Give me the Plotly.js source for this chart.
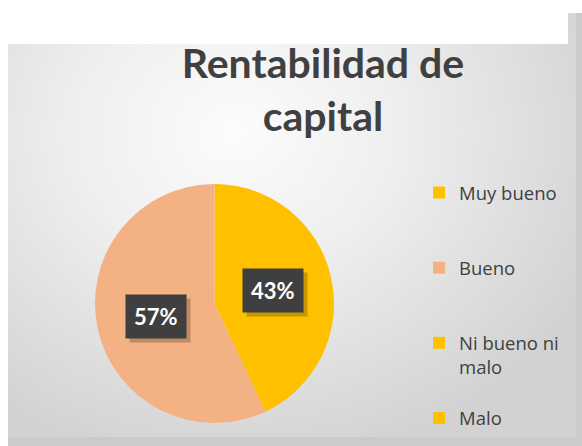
<!DOCTYPE html>
<html><head><meta charset="utf-8">
<script src="https://cdn.plot.ly/plotly-3.0.1.min.js"></script>
<style>
html,body{margin:0;padding:0;background:#fff;}
#wrap{position:relative;width:582px;height:446px;overflow:hidden;background:#fff;}
#panel{position:absolute;left:8px;top:13px;width:574px;height:433px;background:#cbcbcb;}
#inner{position:absolute;left:8px;top:13px;width:568px;height:424px;background:radial-gradient(ellipse 70% 80% at 40% 28%, #fcfcfc 0%, #efefef 40%, #d2d2d2 100%);}
#mask{position:absolute;left:0;top:0;width:568px;height:44px;background:#fff;}
#chart{position:absolute;left:0;top:0;width:582px;height:446px;}
</style></head>
<body>
<div id="wrap"><div id="panel"></div><div id="inner"></div><div id="mask"></div><div id="chart"></div></div>
<script>
const categories = ['Muy bueno', 'Bueno', 'Ni bueno ni malo', 'Malo'];
const values = [43, 57, 0, 0];
const colors = ['#FFC000', '#F4B183', '#FFC000', '#FFC000'];
const titleText = 'Rentabilidad de<br>capital';

const W = 582, H = 446;
const dom = {x: [95 / W, 334 / W], y: [1 - 423 / H, 1 - 184 / H]};

function wrapLabel(s, max, pad) {
  const words = s.split(' '); const lines = []; let cur = '';
  words.forEach(w => {
    if (cur && (cur + ' ' + w).length > max) { lines.push(cur); cur = w; }
    else cur = cur ? cur + ' ' + w : w;
  });
  lines.push(cur);
  while (pad && lines.length < 3) lines.push('\u00a0');
  return lines.join('<br>');
}
const legendLabels = categories.map((c, i) => wrapLabel(c, 12, i < categories.length - 1));

const total = values.reduce((a, b) => a + b, 0);
const cx = (dom.x[0] + dom.x[1]) / 2 * W;
const cy = (1 - (dom.y[0] + dom.y[1]) / 2) * H;
const R = Math.min((dom.x[1] - dom.x[0]) * W, (dom.y[1] - dom.y[0]) * H) / 2;
const annotations = [];
let cum = 0;
values.forEach((v, i) => {
  if (v > 0) {
    const mid = (cum + v / 2) / total * 2 * Math.PI;
    const px = cx + 0.5 * R * Math.sin(mid);
    const py = cy - 0.5 * R * Math.cos(mid);
    const txt = '<b>' + Math.round(v / total * 100) + '%</b>';
    annotations.push({x: (px + 4) / W, y: 1 - (py + 4) / H, xref: 'paper', yref: 'paper', showarrow: false,
      xanchor: 'center', yanchor: 'middle',
      text: txt, font: {family: 'Lato, sans-serif', size: 22, color: 'rgba(0,0,0,0)'},
      bgcolor: 'rgba(0,0,0,0.22)', borderpad: 8});
    annotations.push({x: px / W, y: 1 - py / H, xref: 'paper', yref: 'paper', showarrow: false,
      xanchor: 'center', yanchor: 'middle',
      text: txt, font: {family: 'Lato, sans-serif', size: 22, color: '#ffffff'},
      bgcolor: '#3f3f3f', borderpad: 8});
  }
  cum += v;
});

const trace = {
  type: 'pie', labels: legendLabels, values: values, sort: false, direction: 'clockwise', rotation: 0,
  marker: {colors: colors, line: {width: 0}}, textinfo: 'none', hoverinfo: 'none',
  domain: dom
};
const layout = {
  width: W, height: H, margin: {l: 0, r: 0, t: 0, b: 0, autoexpand: false},
  paper_bgcolor: 'rgba(0,0,0,0)', plot_bgcolor: 'rgba(0,0,0,0)',
  title: {text: titleText, x: 323 / W, xanchor: 'center', y: 1 - 78 / H, yanchor: 'top', yref: 'container',
    font: {family: 'Lato, sans-serif', size: 41, color: '#404040', weight: 'bold'}},
  showlegend: true,
  legend: {x: 0.72, xanchor: 'left', y: 1 - 174 / H, yanchor: 'top', valign: 'top', traceorder: 'normal',
    font: {family: 'Open Sans, sans-serif', size: 18.5, color: '#404040'}, bgcolor: 'rgba(0,0,0,0)'},
  annotations: annotations
};
Plotly.newPlot('chart', [trace], layout, {displayModeBar: false, staticPlot: true});
</script>
</body></html>
